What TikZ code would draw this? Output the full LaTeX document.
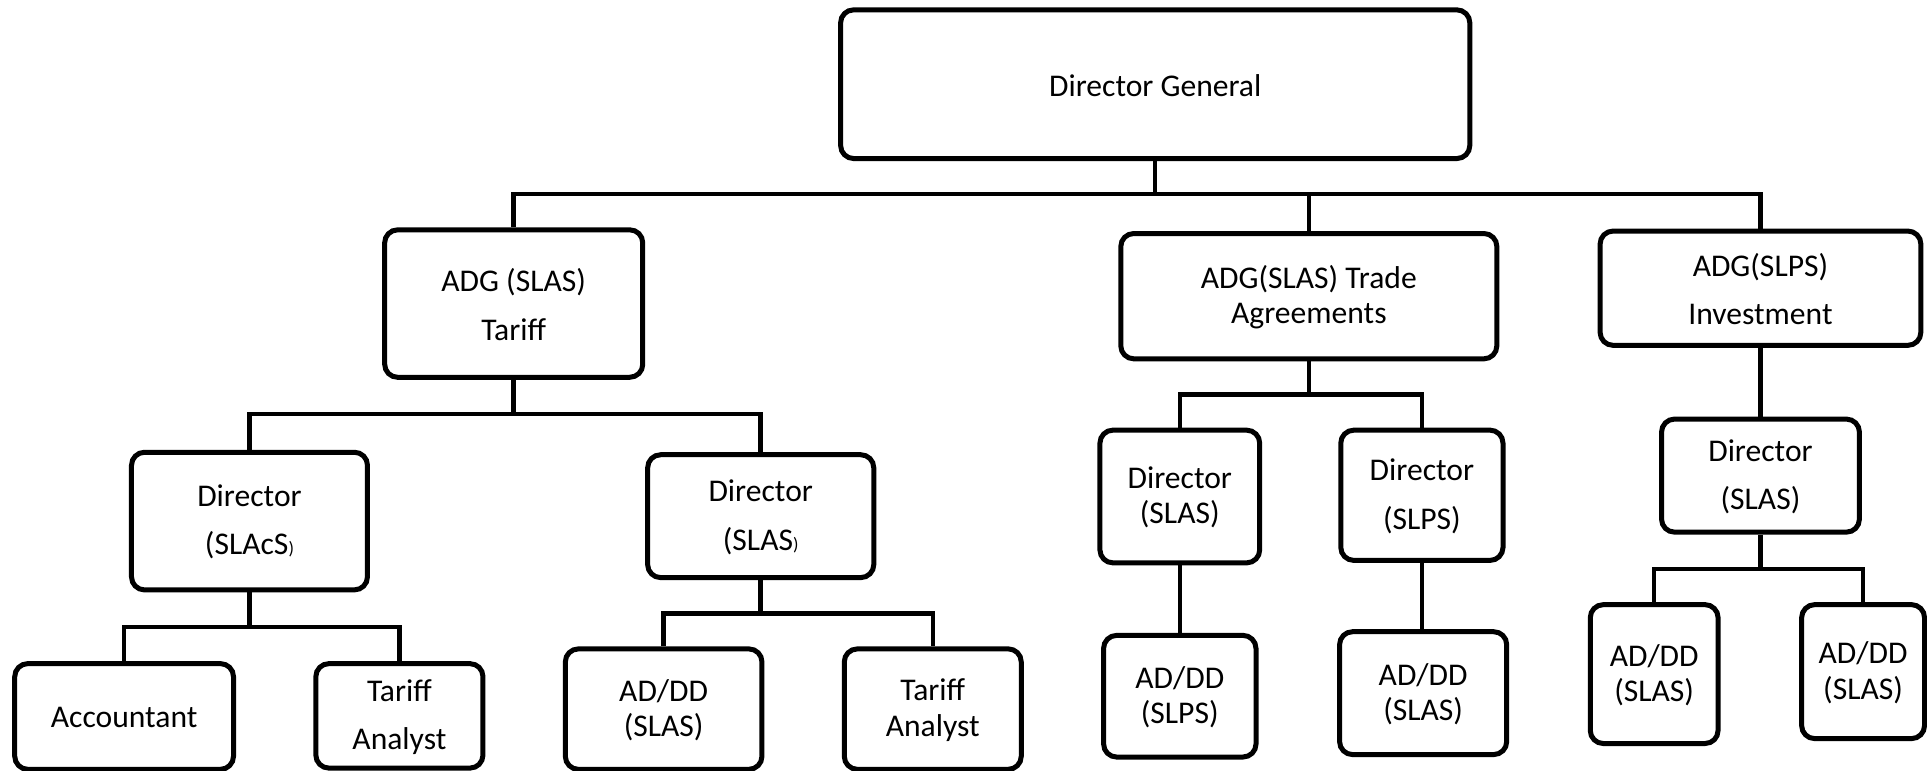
\documentclass[tikz,border=0pt]{standalone}
\usepackage{fontspec}
\setmainfont{Carlito}
\usetikzlibrary{fit}
\newcommand{\smallparen}{{\fontsize{9pt}{9pt}\selectfont)}}
\begin{document}
\begin{tikzpicture}[x=0.61448pt, y=-0.61448pt,
  box/.style={draw, line width=2.5pt, rounded corners=6.5pt, inner sep=0pt},
  loose/.style={align=center, inner sep=0pt, yshift=-0.5pt, font=\fontsize{15.8pt}{24.2pt}\selectfont},
  tight/.style={align=center, inner sep=0pt, yshift=-0.5pt, font=\fontsize{15.8pt}{17.6pt}\selectfont},
  conn/.style={line width=2.25pt}]
\useasboundingbox (0,0) rectangle (1568,627.35);

% level 0
\node[box, fit={(684,8) (1196,129)}, label={[loose]center:Director General}] (dg) {};
% level 1
\node[box, fit={(313,187) (523,307)}, label={[loose]center:ADG (SLAS)\\Tariff}] (adgT) {};
\node[box, fit={(912,190) (1218,292)}, label={[tight]center:ADG(SLAS) Trade\\Agreements}] (adgA) {};
\node[box, fit={(1302,188) (1563,281)}, label={[loose]center:ADG(SLPS)\\Investment}] (adgI) {};
% level 2
\node[box, fit={(107,368) (299,480)}, label={[loose]center:Director\\(SLAcS\smallparen}] (dirC) {};
\node[box, fit={(527,370) (711,470)}, label={[loose]center:Director\\(SLAS\smallparen}] (dirS) {};
\node[box, fit={(895,350) (1025,458)}, label={[tight]center:Director\\(SLAS)}] (dTA) {};
\node[box, fit={(1091,350) (1223,456)}, label={[loose]center:Director\\(SLPS)}] (dTP) {};
\node[box, fit={(1352,341) (1513,433)}, label={[loose]center:Director\\(SLAS)}] (dI) {};
% level 3
\node[box, fit={(12,540) (190,626)}, label={[loose]center:Accountant}] (acc) {};
\node[box, fit={(257,540) (393,625)}, label={[loose]center:Tariff\\Analyst}] (ta1) {};
\node[box, fit={(460,528) (620,626)}, label={[tight]center:AD/DD\\(SLAS)}] (ad1) {};
\node[box, fit={(687,528) (831,626)}, label={[tight]center:Tariff\\Analyst}] (ta2) {};
\node[box, fit={(898,517) (1022,616)}, label={[tight]center:AD/DD\\(SLPS)}] (adTP) {};
\node[box, fit={(1090,514) (1226,614)}, label={[tight]center:AD/DD\\(SLAS)}] (adTS) {};
\node[box, fit={(1294,492) (1398,605)}, label={[tight]center:AD/DD\\(SLAS)}] (adI1) {};
\node[box, fit={(1466,492) (1566,601)}, label={[tight]center:AD/DD\\(SLAS)}] (adI2) {};

% bus points
\coordinate (b0) at (940,158);
\coordinate (b1) at (418,337);
\coordinate (b2) at (203,510);
\coordinate (b3) at (619,499);
\coordinate (b4) at (1065,321);
\coordinate (b5) at (1432.5,463);

% connectors
\draw[conn] (dg.south) -- (b0);
\draw[conn] (adgT.north) |- (b0) -| (adgI.north);
\draw[conn] (adgA.north) -- (adgA.north |- b0);

\draw[conn] (adgT.south) -- (b1);
\draw[conn] (dirC.north) |- (b1) -| (dirS.north);

\draw[conn] (dirC.south) -- (b2);
\draw[conn] (acc.north) |- (b2) -| (ta1.north);

\draw[conn] (dirS.south) -- (b3);
\draw[conn] (ad1.north) |- (b3) -| (ta2.north);

\draw[conn] (adgA.south) -- (b4);
\draw[conn] (dTA.north) |- (b4) -| (dTP.north);
\draw[conn] (dTA.south) -- (adTP.north);
\draw[conn] (dTP.south) -- (dTP.south |- adTS.north);

\draw[conn] (adgI.south) -- (dI.north);
\draw[conn] (dI.south) -- (b5);
\draw[conn] (adI1.north) |- (b5) -| (adI2.north);
\end{tikzpicture}
\end{document}
